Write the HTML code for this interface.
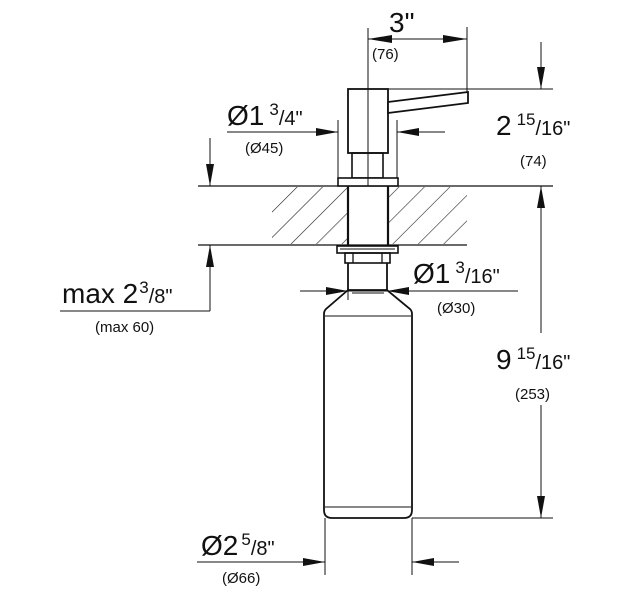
<!DOCTYPE html>
<html><head><meta charset="utf-8"><style>
html,body{margin:0;padding:0;background:#fff}
svg{display:block}
text{font-family:"Liberation Sans",Arial,sans-serif;fill:#111}
.b{font-size:28px}.s{font-size:15px}.sup{font-size:17px}.fr{font-size:20px}
</style></head><body>
<svg width="641" height="600" viewBox="0 0 641 600" xmlns="http://www.w3.org/2000/svg">
<defs>
<pattern id="h" patternUnits="userSpaceOnUse" width="18" height="18" patternTransform="rotate(45)">
<line x1="0" y1="0" x2="0" y2="18" stroke="#222" stroke-width="1.2"/>
</pattern>
<clipPath id="c"><rect x="272" y="187" width="195" height="57"/></clipPath>
</defs>
<g stroke="#111" fill="none" stroke-width="1.3">
<!-- hatch -->
<rect x="272" y="187" width="195" height="57" fill="url(#h)" stroke="none" clip-path="url(#c)"/>
<rect x="347" y="186" width="42" height="60" fill="#fff" stroke="none"/>
<!-- counter lines -->
<line x1="198" y1="186" x2="553" y2="186"/>
<line x1="198" y1="245" x2="467" y2="245"/>
<!-- shank -->
<line x1="348" y1="185" x2="348" y2="247" stroke-width="2.2"/>
<line x1="388" y1="185" x2="388" y2="247" stroke-width="2.2"/>
<!-- head -->
<rect x="348" y="89" width="40" height="64" stroke-width="1.8" fill="#fff"/>
<polygon points="388,102 468,92 468,103 388,113" stroke-width="1.8" fill="#fff"/>
<rect x="352" y="153" width="31" height="25" stroke-width="1.6"/>
<rect x="338" y="178" width="60" height="8" stroke-width="1.6" fill="#fff"/>
<!-- nut/threads -->
<rect x="337" y="246" width="61" height="7" stroke-width="1.6" fill="#fff"/>
<line x1="340" y1="249" x2="395" y2="249" stroke-width="1"/>
<rect x="345" y="253" width="45" height="10" stroke-width="1.6"/>
<line x1="353" y1="253" x2="353" y2="263"/><line x1="382" y1="253" x2="382" y2="263"/>
<!-- neck -->
<line x1="348" y1="263" x2="348" y2="290" stroke-width="1.8"/>
<line x1="387" y1="263" x2="387" y2="290" stroke-width="1.8"/>
<!-- bottle -->
<path d="M348,290 L387,290 L410,309 Q412,311 412,314 L412,510 Q412,518 404,518 L332,518 Q324,518 324,510 L324,314 Q324,311 326,309 Z" stroke-width="1.8"/>
<line x1="352" y1="293" x2="384" y2="293" stroke-width="1"/>
<line x1="325" y1="316" x2="411" y2="316" stroke-width="1"/>
<line x1="325" y1="507" x2="411" y2="507" stroke-width="1"/>
<!-- center line -->
<line x1="368" y1="28" x2="368" y2="186" stroke-width="1"/>
<!-- ext lines -->
<line x1="467" y1="27" x2="467" y2="92" stroke-width="1"/>
<line x1="388" y1="89" x2="553" y2="89" stroke-width="1"/>
<line x1="338" y1="120" x2="338" y2="178" stroke-width="1"/>
<line x1="397" y1="120" x2="397" y2="178" stroke-width="1"/>
<line x1="412" y1="518" x2="553" y2="518" stroke-width="1"/>
<line x1="325" y1="518" x2="325" y2="575" stroke-width="1"/>
<line x1="412" y1="518" x2="412" y2="575" stroke-width="1"/>
<line x1="348" y1="300" x2="348" y2="290" stroke-width="1"/>
<!-- dim lines -->
<line x1="368" y1="39" x2="467" y2="39" stroke-width="1"/>
<line x1="541" y1="42" x2="541" y2="89" stroke-width="1"/>
<line x1="227" y1="132" x2="338" y2="132" stroke-width="1"/>
<line x1="397" y1="132" x2="445" y2="132" stroke-width="1"/>
<line x1="210" y1="138" x2="210" y2="186" stroke-width="1"/>
<line x1="210" y1="245" x2="210" y2="311" stroke-width="1"/>
<line x1="60" y1="311" x2="210" y2="311" stroke-width="1"/>
<line x1="300" y1="291" x2="518" y2="291" stroke-width="1"/>
<line x1="541" y1="186" x2="541" y2="333" stroke-width="1"/>
<line x1="541" y1="405" x2="541" y2="518" stroke-width="1"/>
<line x1="197" y1="562" x2="325" y2="562" stroke-width="1"/>
<line x1="412" y1="562" x2="459" y2="562" stroke-width="1"/>
</g>
<g fill="#111">
<polygon points="368,39 392,35 392,43"/>
<polygon points="467,39 443,35 443,43"/>
<polygon points="541,89 537,67 545,67"/>
<polygon points="338,132 316,128 316,136"/>
<polygon points="397,132 419,128 419,136"/>
<polygon points="210,186 206,164 214,164"/>
<polygon points="210,245 206,267 214,267"/>
<polygon points="348,291 326,287 326,295"/>
<polygon points="387,291 409,287 409,295"/>
<polygon points="541,186 537,208 545,208"/>
<polygon points="541,518 537,496 545,496"/>
<polygon points="325,562 303,558 303,566"/>
<polygon points="412,562 434,558 434,566"/>
</g>
<text x="389" y="32" class="b">3"</text>
<text x="372" y="59" class="s">(76)</text>
<text x="227" y="125" class="b">Ø1<tspan class="sup" dx="5" dy="-10">3</tspan><tspan class="fr" dy="10">/4"</tspan></text>
<text x="245" y="153" class="s">(Ø45)</text>
<text x="496" y="135" class="b">2<tspan class="sup" dx="5" dy="-10">15</tspan><tspan class="fr" dy="10">/16"</tspan></text>
<text x="520" y="166" class="s">(74)</text>
<text x="62" y="303" class="b">max 2<tspan class="sup" dx="1" dy="-10">3</tspan><tspan class="fr" dy="10">/8"</tspan></text>
<text x="95" y="332" class="s">(max 60)</text>
<text x="413" y="283" class="b">Ø1<tspan class="sup" dx="5" dy="-10">3</tspan><tspan class="fr" dy="10">/16"</tspan></text>
<text x="437" y="313" class="s">(Ø30)</text>
<text x="496" y="369" class="b">9<tspan class="sup" dx="5" dy="-10">15</tspan><tspan class="fr" dy="10">/16"</tspan></text>
<text x="515" y="399" class="s">(253)</text>
<text x="201" y="555" class="b">Ø2<tspan class="sup" dx="3" dy="-10">5</tspan><tspan class="fr" dy="10">/8"</tspan></text>
<text x="222" y="583" class="s">(Ø66)</text>
</svg>
</body></html>
